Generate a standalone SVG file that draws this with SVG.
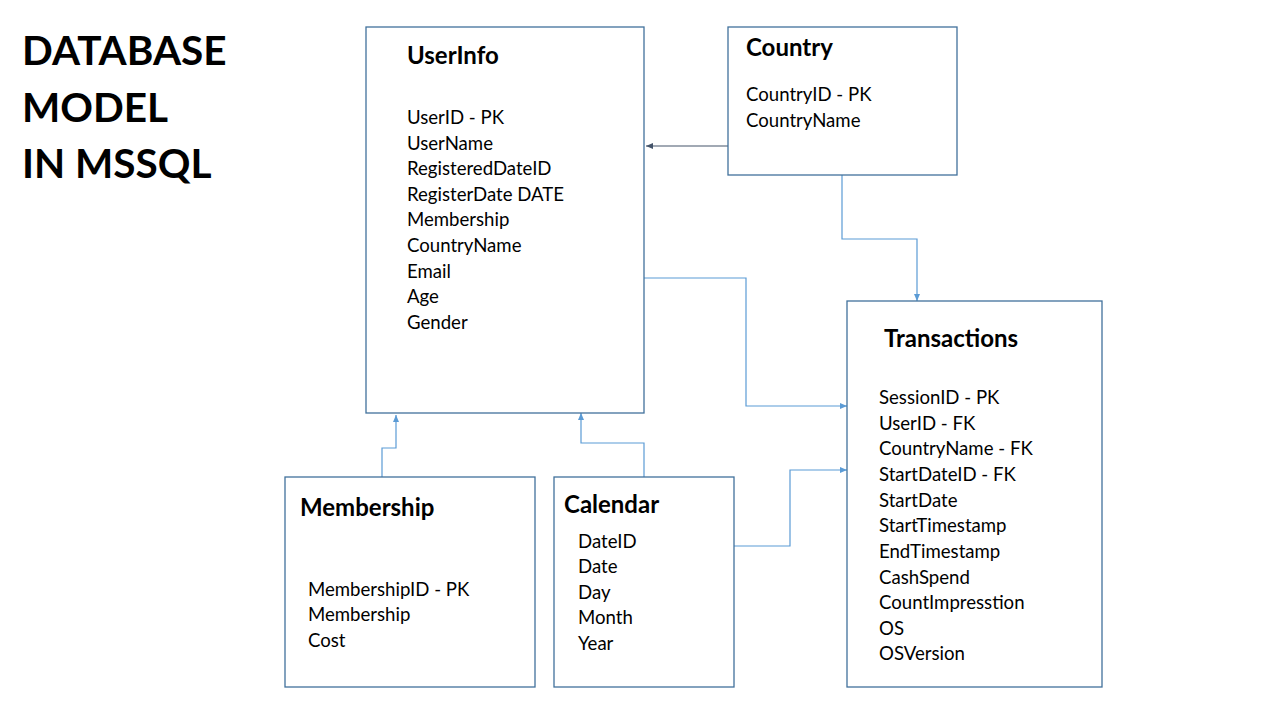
<svg xmlns="http://www.w3.org/2000/svg" width="1280" height="720" viewBox="0 0 1280 720">
<style>
.box{fill:#fff;stroke:#41719C;stroke-width:1.3}
.t{font-family:Lato,"Liberation Sans",sans-serif;fill:#000}
.title{font-size:24px;font-weight:bold}
.f{font-size:18.6px}
.big{font-size:40.5px;font-weight:bold}
.c{fill:none;stroke:#5B9BD5;stroke-width:1.2}
.cd{fill:none;stroke:#44546A;stroke-width:1.2}
</style>
<defs>
<marker id="a" markerWidth="7" markerHeight="6" refX="7" refY="3" orient="auto" markerUnits="userSpaceOnUse"><path d="M0,0 L7,3 L0,6 z" fill="#5B9BD5"/></marker>
<marker id="ad" markerWidth="7" markerHeight="6" refX="7" refY="3" orient="auto" markerUnits="userSpaceOnUse"><path d="M0,0 L7,3 L0,6 z" fill="#44546A"/></marker>
</defs>
<rect width="1280" height="720" fill="#fff"/>
<g id="title" class="t big">
<text x="22" y="65">DATABASE</text>
<text x="22" y="122">MODEL</text>
<text x="22" y="178">IN MSSQL</text>
</g>
<g id="connectors">
<path class="cd" d="M728,146 H646" marker-end="url(#ad)"/>
<path class="c" d="M842,175 V239 H917 V301" marker-end="url(#a)"/>
<path class="c" d="M644,278 H746 V406 H847" marker-end="url(#a)"/>
<path class="c" d="M382,477 V448 H396 V415" marker-end="url(#a)"/>
<path class="c" d="M644,477 V443 H581 V413" marker-end="url(#a)"/>
<path class="c" d="M734,546 H790 V470 H847" marker-end="url(#a)"/>
</g>
<g id="UserInfo">
<rect class="box" x="366" y="27" width="278" height="386"/>
<text class="t title" x="407" y="64">UserInfo</text>
<g class="t f">
<text x="407" y="124">UserID - PK</text>
<text x="407" y="150">UserName</text>
<text x="407" y="175">RegisteredDateID</text>
<text x="407" y="201">RegisterDate DATE</text>
<text x="407" y="226">Membership</text>
<text x="407" y="252">CountryName</text>
<text x="407" y="278">Email</text>
<text x="407" y="303">Age</text>
<text x="407" y="329">Gender</text>
</g>
</g>
<g id="Country">
<rect class="box" x="728" y="27" width="229" height="148"/>
<text class="t title" x="746" y="56">Country</text>
<g class="t f">
<text x="746" y="101">CountryID - PK</text>
<text x="746" y="127">CountryName</text>
</g>
</g>
<g id="Transactions">
<rect class="box" x="847" y="301" width="255" height="386"/>
<text class="t title" x="884" y="347">Transactions</text>
<g class="t f">
<text x="879" y="404">SessionID - PK</text>
<text x="879" y="430">UserID - FK</text>
<text x="879" y="455">CountryName - FK</text>
<text x="879" y="481">StartDateID - FK</text>
<text x="879" y="507">StartDate</text>
<text x="879" y="532">StartTimestamp</text>
<text x="879" y="558">EndTimestamp</text>
<text x="879" y="584">CashSpend</text>
<text x="879" y="609">CountImpresstion</text>
<text x="879" y="635">OS</text>
<text x="879" y="660">OSVersion</text>
</g>
</g>
<g id="Membership">
<rect class="box" x="285" y="477" width="250" height="210"/>
<text class="t title" x="300" y="516">Membership</text>
<g class="t f">
<text x="308" y="596">MembershipID - PK</text>
<text x="308" y="621">Membership</text>
<text x="308" y="647">Cost</text>
</g>
</g>
<g id="Calendar">
<rect class="box" x="554" y="477" width="180" height="210"/>
<text class="t title" x="564" y="513">Calendar</text>
<g class="t f">
<text x="578" y="548">DateID</text>
<text x="578" y="573">Date</text>
<text x="578" y="599">Day</text>
<text x="578" y="624">Month</text>
<text x="578" y="650">Year</text>
</g>
</g>
</svg>
